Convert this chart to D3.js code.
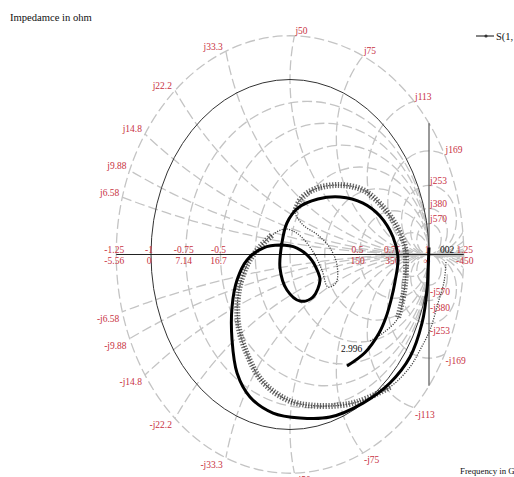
<!DOCTYPE html>
<html>
<head>
<meta charset="utf-8">
<script src="https://cdn.jsdelivr.net/npm/d3@7"></script>
<style>
  body { margin: 0; background: #fff; }
  svg { display: block; }
  text { font-family: "Liberation Serif", "Times New Roman", serif; }
</style>
</head>
<body>
<svg id="chart" width="514" height="477"></svg>
<script>
// reflection coefficient ticks on the real axis + their impedance (ohm)
var gammaTicks = [-1.25, -1, -0.75, -0.5, 0.5, 0.75, 1, 1.25];
var gammaLabels = ['-1.25', '-1', '-0.75', '-0.5', '0.5', '0.75', '1', '1.25'];
var ohmLabels = ['-5.56', '0', '7.14', '16.7', '150', '350', '\u221e', '-450'];
// constant resistance circles, by where they cut the real axis
var resistCuts = [-0.75, -0.5, -0.25, 0, 0.25, 0.5, 0.75];
// constant reactance circles (normalized to 50 ohm) and labels
var reactances = [0.1316, 0.1975, 0.2963, 0.4444, 0.6667, 1, 1.5, 2.25, 3.375, 5.0625, 7.594, 11.39];
var reactLabels = ['6.58', '9.88', '14.8', '22.2', '33.3', '50', '75', '113', '169', '253', '380', '570'];

// S(1,1) trace, real and imaginary parts
var s11Re = [1.0, 0.993, 0.986, 0.950, 0.863, 0.719, 0.525, 0.288, 0.072, -0.122, -0.288, -0.381, -0.417, -0.417,
  -0.381, -0.309, -0.194, -0.072, 0.050, 0.144, 0.201, 0.216, 0.165, 0.072, -0.022, -0.072, -0.058, -0.022,
  0.058, 0.201, 0.360, 0.525, 0.647, 0.741, 0.777, 0.755, 0.727, 0.690, 0.640, 0.540, 0.410];
var s11Im = [0.04, -0.089, -0.203, -0.391, -0.586, -0.734, -0.849, -0.929, -0.934, -0.906, -0.814, -0.677, -0.489, -0.300,
  -0.146, -0.031, 0.037, 0.054, 0.037, -0.020, -0.100, -0.146, -0.243, -0.266, -0.203, -0.077, 0.066, 0.180,
  0.266, 0.317, 0.329, 0.294, 0.220, 0.100, -0.020, -0.157, -0.260, -0.360, -0.450, -0.560, -0.637];

// the marker (dotted) trace
var markRe = [1.122, 1.108, 1.065, 1.007, 0.935, 0.863, 0.719, 0.482, 0.237, 0.000, -0.194, -0.309, -0.374, -0.367,
  -0.302, -0.216, -0.129, -0.036, 0.058, 0.158, 0.230, 0.273, 0.331, 0.338, 0.288, 0.201, 0.094, 0.036,
  0.072, 0.165, 0.338, 0.525, 0.669, 0.770, 0.827, 0.834, 0.820, 0.777, 0.669, 0.576];
var markIm = [-0.043, -0.157, -0.277, -0.431, -0.546, -0.643, -0.757, -0.843, -0.866, -0.837, -0.729, -0.569, -0.391, -0.203,
  -0.049, 0.043, 0.111, 0.146, 0.117, 0.026, -0.089, -0.186, -0.163, -0.060, 0.037, 0.111, 0.169, 0.243,
  0.311, 0.369, 0.397, 0.369, 0.271, 0.157, 0.043, -0.089, -0.214, -0.363, -0.449, -0.494];
var hatchRuns = [[6, 16], [27, 37]];

var markerLine = [[1, 0.75], [1, -0.75]];
var startLabel = '002', stopLabel = '2.996';

var R = 1.25;
var svg = d3.select('#chart');
var x = d3.scaleLinear().domain([-R, R]).range([116.25, 463.75]);
var y = d3.scaleLinear().domain([-R, R]).range([473.25, 35.75]);
var rx = function(r) { return x(r) - x(0); };
var ry = function(r) { return y(0) - y(r); };
var red = '#c8323f';

svg.append('defs').append('clipPath').attr('id', 'disk')
  .append('ellipse').attr('cx', x(0)).attr('cy', y(0)).attr('rx', rx(R)).attr('ry', ry(R));

var grid = svg.append('g').attr('clip-path', 'url(#disk)')
  .attr('fill', 'none').attr('stroke', '#c4c4c4').attr('stroke-width', 1.3).attr('stroke-dasharray', '10 4');

grid.selectAll('.rc').data(resistCuts).enter().append('ellipse')
  .attr('cx', function(g) { return x((g + 1) / 2); })
  .attr('cy', y(0))
  .attr('rx', function(g) { return rx((1 - g) / 2); })
  .attr('ry', function(g) { return ry((1 - g) / 2); });

var react = [];
reactances.forEach(function(v, i) {
  react.push({ x: v, label: 'j' + reactLabels[i], s: 1 });
  react.push({ x: v, label: '-j' + reactLabels[i], s: -1 });
});
grid.selectAll('.xc').data(react).enter().append('ellipse')
  .attr('cx', x(1))
  .attr('cy', function(d) { return y(d.s / d.x); })
  .attr('rx', function(d) { return rx(1 / d.x); })
  .attr('ry', function(d) { return ry(1 / d.x); });

svg.append('ellipse').attr('cx', x(0)).attr('cy', y(0)).attr('rx', rx(R)).attr('ry', ry(R))
  .attr('fill', 'none').attr('stroke', '#c4c4c4').attr('stroke-width', 1.3).attr('stroke-dasharray', '10 4');

// unit circle and real axis
svg.append('ellipse').attr('cx', x(0)).attr('cy', y(0)).attr('rx', rx(1)).attr('ry', ry(1))
  .attr('fill', 'none').attr('stroke', '#333').attr('stroke-width', 1);
svg.append('line').attr('x1', x(-R)).attr('x2', x(R)).attr('y1', y(0)).attr('y2', y(0))
  .attr('stroke', '#222').attr('stroke-width', 1.2);
svg.append('line')
  .attr('x1', x(markerLine[0][0])).attr('y1', y(markerLine[0][1]))
  .attr('x2', x(markerLine[1][0])).attr('y2', y(markerLine[1][1]))
  .attr('stroke', '#555').attr('stroke-width', 1.2);

// where each reactance circle meets the outer rim, else its top point
function rimPoint(xv) {
  var k = (R * R + 1) / 2, a = 1 + 1 / (xv * xv), b = -2 * k / xv, c = k * k - R * R;
  var disc = b * b - 4 * a * c;
  if (disc < 0) return [1, 2 / xv];
  var v = (-b + Math.sqrt(disc)) / (2 * a);
  return [k - v / xv, v];
}

var lab = svg.append('g').attr('fill', red).attr('font-size', '9.5px');
react.forEach(function(d) {
  var p = rimPoint(d.x);
  var left = p[0] < 0;
  lab.append('text')
    .attr('x', x(p[0]) + (left ? -3 : 1))
    .attr('y', y(d.s * p[1]) + (d.s > 0 ? -1.5 : 10))
    .attr('text-anchor', left ? 'end' : 'start')
    .text(d.label);
});
gammaTicks.forEach(function(g, i) {
  var dx = g > 1 ? 1 : -2;
  lab.append('text').attr('x', x(g) + dx).attr('y', y(0) - 2).attr('text-anchor', 'middle').text(gammaLabels[i]);
  lab.append('text').attr('x', x(g) + dx).attr('y', y(0) + 9.5).attr('text-anchor', 'middle').text(ohmLabels[i]);
});

// traces
var line = d3.line().curve(d3.curveCatmullRom.alpha(0.5))
  .x(function(d) { return x(d[0]); }).y(function(d) { return y(d[1]); });
var mark = markRe.map(function(v, i) { return [v, markIm[i]]; });
svg.append('path').attr('d', line(mark)).attr('fill', 'none')
  .attr('stroke', '#444').attr('stroke-width', 1.3).attr('stroke-dasharray', '1.2 1.3');
hatchRuns.forEach(function(run) {
  svg.append('path').attr('d', line(mark.slice(run[0], run[1] + 1))).attr('fill', 'none')
    .attr('stroke', '#3a3a3a').attr('stroke-width', 6).attr('stroke-dasharray', '1.3 1.6').attr('opacity', 0.75);
});
var s11 = s11Re.map(function(v, i) { return [v, s11Im[i]]; });
svg.append('path').attr('d', line(s11)).attr('fill', 'none')
  .attr('stroke', '#000').attr('stroke-width', 3).attr('stroke-linejoin', 'round');

// annotations
var ann = svg.append('g').attr('fill', '#111').attr('font-size', '9.5px');
ann.append('text').attr('x', x(1) + 11).attr('y', y(0) - 2).text(startLabel);
var last = s11[s11.length - 1];
ann.append('text').attr('x', x(last[0]) - 6).attr('y', y(last[1]) - 14).text(stopLabel);
ann.append('text').attr('x', 10).attr('y', 21).attr('font-size', '10.6px').text('Impedamce in ohm');
ann.append('text').attr('x', 460).attr('y', 474).attr('font-size', '8.8px').text('Frequency in GHz');

// legend
svg.append('line').attr('x1', 476).attr('x2', 494).attr('y1', 36).attr('y2', 36)
  .attr('stroke', '#333').attr('stroke-width', 1.2);
svg.append('circle').attr('cx', 486).attr('cy', 36).attr('r', 1.6).attr('fill', '#333');
ann.append('text').attr('x', 496).attr('y', 40).attr('font-size', '10.5px').text('S(1,1)');
</script>
</body>
</html>
